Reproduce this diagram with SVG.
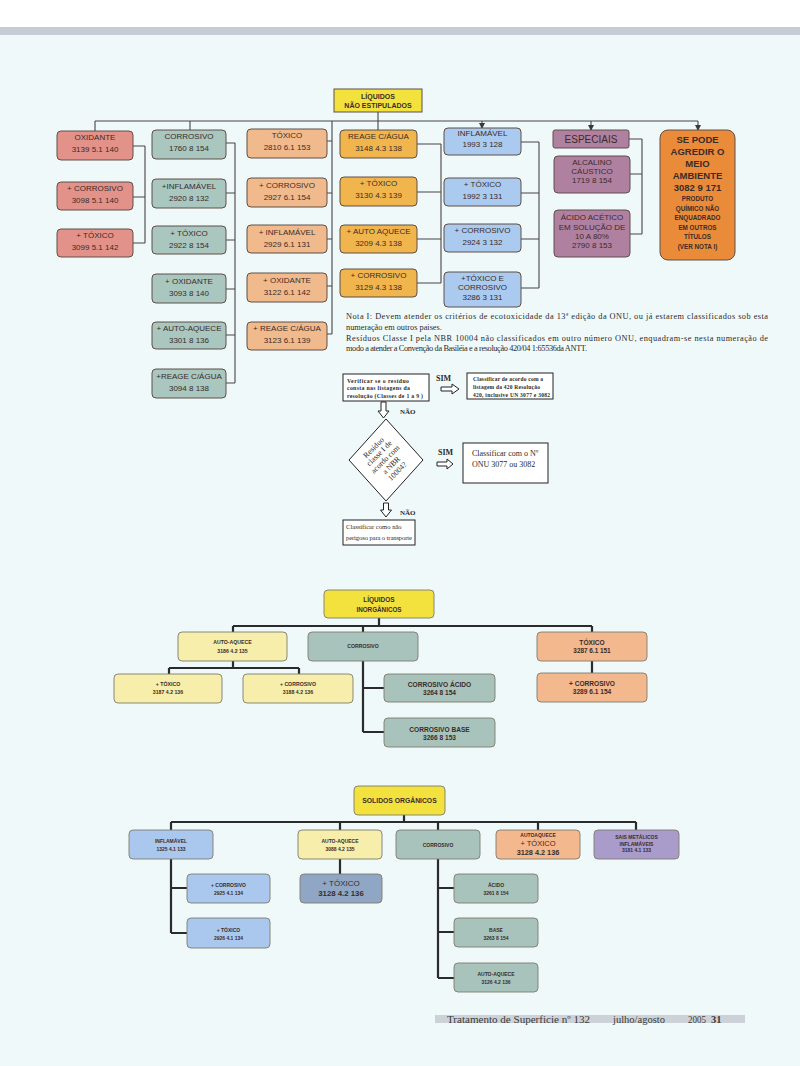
<svg xmlns="http://www.w3.org/2000/svg" width="800" height="1066" viewBox="0 0 800 1066">
<defs>
<marker id="ah" markerWidth="6" markerHeight="6" refX="5" refY="3" orient="auto" markerUnits="userSpaceOnUse">
<path d="M0,0 L6,3 L0,6 Z" fill="#3a3a3a"/>
</marker>
<style>
.t{font-family:"Liberation Sans",Arial,sans-serif;text-anchor:middle;fill:#3a2c28}
.f8{font-size:8px}
.b{font-weight:bold}
.sr{font-family:"Liberation Serif","Times New Roman",serif;fill:#2a2a2a}
.ln{stroke:#4a4444;stroke-width:1.1;fill:none}
.lk{stroke:#2b2b2b;stroke-width:2.2;fill:none}
.bx{stroke:#5e4f48;stroke-width:1}
.bm{stroke:#7f7a70;stroke-width:0.9}
.ox{fill:#e3928a}
.co{fill:#a9c6bf}
.tx{fill:#f1ba8c}
.re{fill:#f1b54e}
.in{fill:#abcaef}
.es{fill:#b080a1}
.se{fill:#ea8b3a}
.ye{fill:#f3e23e}
.py{fill:#f6eeaa}
.mc{fill:#a8c3bb}
.mt{fill:#f3b88e}
.bb{fill:#aac8ee}
.bg{fill:#8fa7c4}
.sa{fill:#a99ccb}
.fb{fill:#ffffff;stroke:#222;stroke-width:1}
.ha{fill:#ffffff;stroke:#222;stroke-width:1}
.ft{font-family:"Liberation Serif","Times New Roman",serif;fill:#3a3a3a;font-size:10.5px}
</style>
</defs>
<rect x="0" y="0" width="800" height="1066" fill="#eff9fa"/>
<rect x="0" y="0" width="800" height="27" fill="#ffffff"/>
<rect x="0" y="27" width="800" height="8" fill="#c6ccd4"/>

<!-- connectors -->
<g id="connectors">
<path class="ln" d="M95,121 H698 M378,112 V130 M95,121 V131 M190,121 V130"/>
<path class="ln" d="M133,146 H145 M133,197 H145 M133,243 H145 M145,146 V243"/>
<path class="ln" d="M235,143 V383 M226,143 H235 M226,193 H235 M226,240 H235 M226,289 H235 M226,335 H235 M226,383 H235"/>
<path class="ln" d="M332,121 V334 M327,141 H332 M327,193 H332 M327,239 H332 M327,286 H332 M327,334 H332"/>
<path class="ln" d="M441,144 V283 M417,144 H441 M417,192 H441 M417,239 H441 M417,283 H441"/>
<path class="ln" d="M539,142 V288 M521,142 H539 M521,193 H539 M521,239 H539 M521,288 H539"/>
<path class="ln" d="M642,139 V234 M629,139 H642 M630,174 H642 M630,234 H642"/>
<line class="ln" x1="482" y1="121" x2="482" y2="128" marker-end="url(#ah)"/>
<line class="ln" x1="591" y1="121" x2="591" y2="130" marker-end="url(#ah)"/>
<line class="ln" x1="698" y1="121" x2="698" y2="130" marker-end="url(#ah)"/>
<!-- middle -->
<path class="lk" d="M379,618 V626 M233,626 H592 M233,626 V632 M363,626 V632 M592,626 V632"/>
<path class="lk" d="M233,661 V668 M169,668 H299 M169,668 V674 M299,668 V674"/>
<path class="lk" d="M363,661 V732 M363,688 H384 M363,732 H384 M592,661 V673"/>
<!-- bottom -->
<path class="lk" d="M404,815 V822 M171,822 H636 M171,822 V830 M340,822 V830 M438,822 V830 M538,822 V830 M636,822 V830"/>
<path class="lk" d="M171,859 V933 M171,888 H187 M171,933 H187 M340,859 V874"/>
<path class="lk" d="M438,859 V978 M438,888 H454 M438,932 H454 M438,978 H454"/>
</g>

<!-- TOP SECTION -->
<g id="root-liquidos-nao-estipulados">
<rect class="bx ye" x="334" y="89" width="88" height="23"/>
<text class="t b" font-size="7" x="378" y="99">LÍQUIDOS</text>
<text class="t b" font-size="7" x="378" y="108">NÃO ESTIPULADOS</text>
</g>

<g id="oxidante">
<rect class="bx ox" x="57" y="131" width="76" height="29" rx="4"/>
<text class="t f8" x="95" y="140" fill="#5a1d18">OXIDANTE</text>
<text class="t f8" x="95" y="152">3139 5.1 140</text>
</g>
<g id="oxidante-corrosivo">
<rect class="bx ox" x="57" y="182" width="76" height="28" rx="4"/>
<text class="t f8" x="95" y="191">+ CORROSIVO</text>
<text class="t f8" x="95" y="203">3098 5.1 140</text>
</g>
<g id="oxidante-toxico">
<rect class="bx ox" x="57" y="229" width="76" height="28" rx="4"/>
<text class="t f8" x="95" y="238">+ TÓXICO</text>
<text class="t f8" x="95" y="250">3099 5.1 142</text>
</g>

<g id="corrosivo">
<rect class="bx co" x="152" y="130" width="74" height="29" rx="4"/>
<text class="t f8" x="189" y="139">CORROSIVO</text>
<text class="t f8" x="189" y="151">1760 8 154</text>
</g>
<g id="corrosivo-inflamavel">
<rect class="bx co" x="152" y="179" width="74" height="29" rx="4"/>
<text class="t f8" x="189" y="189">+INFLAMÁVEL</text>
<text class="t f8" x="189" y="201">2920 8 132</text>
</g>
<g id="corrosivo-toxico">
<rect class="bx co" x="152" y="226" width="74" height="28" rx="4"/>
<text class="t f8" x="189" y="236">+ TÓXICO</text>
<text class="t f8" x="189" y="248">2922 8 154</text>
</g>
<g id="corrosivo-oxidante">
<rect class="bx co" x="152" y="274" width="74" height="29" rx="4"/>
<text class="t f8" x="189" y="284">+ OXIDANTE</text>
<text class="t f8" x="189" y="296">3093 8 140</text>
</g>
<g id="corrosivo-autoaquece">
<rect class="bx co" x="152" y="322" width="74" height="27" rx="4"/>
<text class="t f8" x="189" y="331">+ AUTO-AQUECE</text>
<text class="t f8" x="189" y="343">3301 8 136</text>
</g>
<g id="corrosivo-reage">
<rect class="bx co" x="152" y="369" width="74" height="29" rx="4"/>
<text class="t f8" x="189" y="379">+REAGE C/ÁGUA</text>
<text class="t f8" x="189" y="391">3094 8 138</text>
</g>

<g id="toxico">
<rect class="bx tx" x="247" y="129" width="80" height="29" rx="4"/>
<text class="t f8" x="287" y="138">TÓXICO</text>
<text class="t f8" x="287" y="150">2810 6.1 153</text>
</g>
<g id="toxico-corrosivo">
<rect class="bx tx" x="247" y="178" width="80" height="29" rx="4"/>
<text class="t f8" x="287" y="188">+ CORROSIVO</text>
<text class="t f8" x="287" y="200">2927 6.1 154</text>
</g>
<g id="toxico-inflamavel">
<rect class="bx tx" x="247" y="225" width="80" height="28" rx="4"/>
<text class="t f8" x="287" y="235">+ INFLAMÁVEL</text>
<text class="t f8" x="287" y="247">2929 6.1 131</text>
</g>
<g id="toxico-oxidante">
<rect class="bx tx" x="247" y="273" width="80" height="29" rx="4"/>
<text class="t f8" x="287" y="283">+ OXIDANTE</text>
<text class="t f8" x="287" y="295">3122 6.1 142</text>
</g>
<g id="toxico-reage">
<rect class="bx tx" x="247" y="322" width="80" height="28" rx="4"/>
<text class="t f8" x="287" y="331">+ REAGE C/ÁGUA</text>
<text class="t f8" x="287" y="343">3123 6.1 139</text>
</g>

<g id="reage">
<rect class="bx re" x="340" y="130" width="77" height="28" rx="4"/>
<text class="t f8" x="378.5" y="139">REAGE C/ÁGUA</text>
<text class="t f8" x="378.5" y="151">3148 4.3 138</text>
</g>
<g id="reage-toxico">
<rect class="bx re" x="340" y="177" width="77" height="29" rx="4"/>
<text class="t f8" x="378.5" y="186">+ TÓXICO</text>
<text class="t f8" x="378.5" y="198">3130 4.3 139</text>
</g>
<g id="reage-autoaquece">
<rect class="bx re" x="340" y="225" width="77" height="28" rx="4"/>
<text class="t f8" x="378.5" y="234">+ AUTO AQUECE</text>
<text class="t f8" x="378.5" y="246">3209 4.3 138</text>
</g>
<g id="reage-corrosivo">
<rect class="bx re" x="340" y="269" width="77" height="28" rx="4"/>
<text class="t f8" x="378.5" y="278">+ CORROSIVO</text>
<text class="t f8" x="378.5" y="290">3129 4.3 138</text>
</g>

<g id="inflamavel">
<rect class="bx in" x="444" y="128" width="77" height="27" rx="4"/>
<text class="t f8" x="482.5" y="136">INFLAMÁVEL</text>
<text class="t f8" x="482.5" y="147">1993 3 128</text>
</g>
<g id="inflamavel-toxico">
<rect class="bx in" x="444" y="178" width="77" height="28" rx="4"/>
<text class="t f8" x="482.5" y="187">+ TÓXICO</text>
<text class="t f8" x="482.5" y="199">1992 3 131</text>
</g>
<g id="inflamavel-corrosivo">
<rect class="bx in" x="444" y="224" width="77" height="28" rx="4"/>
<text class="t f8" x="482.5" y="233">+ CORROSIVO</text>
<text class="t f8" x="482.5" y="245">2924 3 132</text>
</g>
<g id="inflamavel-toxico-corrosivo">
<rect class="bx in" x="444" y="272" width="77" height="35" rx="4"/>
<text class="t f8" x="482.5" y="281">+TÓXICO E</text>
<text class="t f8" x="482.5" y="290">CORROSIVO</text>
<text class="t f8" x="482.5" y="300">3286 3 131</text>
</g>

<g id="especiais">
<rect class="bx es" x="553" y="130" width="76" height="18" rx="2"/>
<text class="t" font-size="10" x="591" y="143">ESPECIAIS</text>
</g>
<g id="alcalino-caustico">
<rect class="bx es" x="554" y="156" width="76" height="37" rx="4"/>
<text class="t f8" x="592" y="165">ALCALINO</text>
<text class="t f8" x="592" y="174">CÁUSTICO</text>
<text class="t f8" x="592" y="183">1719 8 154</text>
</g>
<g id="acido-acetico">
<rect class="bx es" x="554" y="210" width="76" height="47" rx="4"/>
<text class="t f8" x="592" y="220">ÁCIDO ACÉTICO</text>
<text class="t f8" x="592" y="230">EM SOLUÇÃO DE</text>
<text class="t f8" x="592" y="239">10 A 80%</text>
<text class="t f8" x="592" y="248">2790 8 153</text>
</g>

<g id="se-pode-agredir">
<rect class="bx se" x="660" y="130" width="75" height="130" rx="8"/>
<g class="t b" font-size="9.5">
<text x="697.5" y="143">SE PODE</text>
<text x="697.5" y="155">AGREDIR O</text>
<text x="697.5" y="167">MEIO</text>
<text x="697.5" y="179">AMBIENTE</text>
<text x="697.5" y="191">3082 9 171</text>
</g>
<g class="t b" font-size="6.3">
<text x="697.5" y="200.5">PRODUTO</text>
<text x="697.5" y="210.5">QUÍMICO NÃO</text>
<text x="697.5" y="220">ENQUADRADO</text>
<text x="697.5" y="229.5">EM OUTROS</text>
<text x="697.5" y="239">TÍTULOS</text>
<text x="697.5" y="248.5">(VER NOTA I)</text>
</g>
</g>

<!-- NOTE -->
<g id="nota" class="sr" font-size="8.3">
<text x="346" y="319" textLength="422" lengthAdjust="spacing">Nota I: Devem atender os critérios de ecotoxicidade da 13ª edição da ONU, ou já estarem classificados sob esta</text>
<text x="346" y="330">numeração em outros paises.</text>
<text x="346" y="341" textLength="422" lengthAdjust="spacing">Resíduos Classe I pela NBR 10004 não classificados em outro número ONU,  enquadram-se nesta numeração de</text>
<text x="346" y="351" textLength="241" lengthAdjust="spacing">modo a atender a Convenção da Basiléia e a resolução 420/04 1:65536da ANTT.</text>
</g>

<!-- FLOWCHART -->
<g id="flow-verificar">
<rect class="fb" x="343" y="374" width="86" height="27"/>
<g class="sr b" font-size="5.8">
<text x="347" y="383" textLength="62" lengthAdjust="spacing">Verificar se  o  resíduo</text>
<text x="347" y="390" textLength="63" lengthAdjust="spacing">consta nas listagens da</text>
<text x="347" y="397.5" textLength="76" lengthAdjust="spacing">resolução (Classes de 1 a 9 )</text>
</g>
</g>
<g id="flow-sim1">
<text class="sr b" font-size="8" x="436" y="381">SIM</text>
<path class="ha" d="M441,387 H452 V384 L459,389 L452,394 V391 H441 Z"/>
</g>
<g id="flow-classificar-listagem">
<rect class="fb" x="467" y="373" width="86" height="26"/>
<g class="sr b" font-size="5.5">
<text x="473" y="381" textLength="70" lengthAdjust="spacing">Classificar de acordo com a</text>
<text x="473" y="389" textLength="67" lengthAdjust="spacing">listagem da 420 Resolução</text>
<text x="473" y="396.5" textLength="77" lengthAdjust="spacing">420, inclusive UN 3077 e 3082</text>
</g>
</g>
<g id="flow-nao1">
<path class="ha" d="M381,402 H386 V411 H389 L383.5,418 L378,411 H381 Z"/>
<text class="sr b" font-size="7" x="400" y="414">NÃO</text>
</g>
<g id="flow-diamond">
<polygon class="fb" points="386,419 423,460 386,501 349,460"/>
<g class="sr" font-size="7.8" text-anchor="middle" transform="rotate(-45 386 460)">
<text x="386" y="445">Resíduo</text>
<text x="386" y="453">classe I de</text>
<text x="386" y="461.5">acordo com</text>
<text x="386" y="470">a NBR</text>
<text x="386" y="478.5">10004?</text>
</g>
</g>
<g id="flow-sim2">
<text class="sr b" font-size="8" x="438" y="455">SIM</text>
<path class="ha" d="M437,462 H447 V459 L453,464 L447,469 V466 H437 Z"/>
</g>
<g id="flow-classificar-onu">
<rect class="fb" x="463" y="443" width="85" height="40"/>
<text class="sr" font-size="8" x="472" y="456">Classificar com o Nº</text>
<text class="sr" font-size="8" x="472" y="467">ONU 3077 ou 3082</text>
</g>
<g id="flow-nao2">
<path class="ha" d="M383.5,503 H388.5 V510 H391.5 L386,517 L380.5,510 H383.5 Z"/>
<text class="sr b" font-size="7" x="400" y="515">NÃO</text>
</g>
<g id="flow-nao-perigoso">
<rect class="fb" x="343" y="520" width="72" height="25"/>
<text class="sr" font-size="6.6" x="346" y="528.5">Classificar como não</text>
<text class="sr" font-size="6.6" x="346" y="540" textLength="66" lengthAdjust="spacing">perigoso para o transporte</text>
</g>

<!-- MIDDLE SECTION -->
<g id="root-liquidos-inorganicos">
<rect class="bm ye" x="324" y="590" width="110" height="28" rx="4"/>
<text class="t b" font-size="6.5" x="379" y="601.5">LÍQUIDOS</text>
<text class="t b" font-size="6.3" x="379" y="611.5">INORGÂNICOS</text>
</g>
<g id="li-autoaquece">
<rect class="bm py" x="178" y="632" width="109" height="29" rx="4"/>
<text class="t b" font-size="5.2" x="232.5" y="644">AUTO-AQUECE</text>
<text class="t b" font-size="5.2" x="232.5" y="653">3186 4.2 135</text>
</g>
<g id="li-corrosivo">
<rect class="bm mc" x="308" y="632" width="110" height="29" rx="4"/>
<text class="t b" font-size="5.2" x="363" y="648">CORROSIVO</text>
</g>
<g id="li-toxico">
<rect class="bm mt" x="537" y="632" width="110" height="29" rx="4"/>
<text class="t b" font-size="6.6" x="592" y="644.5">TÓXICO</text>
<text class="t b" font-size="6.4" x="592" y="652.5">3287 6.1 151</text>
</g>
<g id="li-autoaquece-toxico">
<rect class="bm py" x="114" y="674" width="108" height="29" rx="4"/>
<text class="t b" font-size="5.2" x="168" y="686">+ TÓXICO</text>
<text class="t b" font-size="5.2" x="168" y="694">3187 4.2 136</text>
</g>
<g id="li-autoaquece-corrosivo">
<rect class="bm py" x="243" y="674" width="110" height="29" rx="4"/>
<text class="t b" font-size="5.2" x="298" y="686">+ CORROSIVO</text>
<text class="t b" font-size="5.2" x="298" y="694">3188 4.2 136</text>
</g>
<g id="li-corrosivo-acido">
<rect class="bm mc" x="384" y="674" width="111" height="28" rx="4"/>
<text class="t b" font-size="6.6" x="439.5" y="686.5">CORROSIVO ÁCIDO</text>
<text class="t b" font-size="6.6" x="439.5" y="694.5">3264 8 154</text>
</g>
<g id="li-corrosivo-base">
<rect class="bm mc" x="384" y="718" width="111" height="29" rx="4"/>
<text class="t b" font-size="6.6" x="439.5" y="731.5">CORROSIVO BASE</text>
<text class="t b" font-size="6.6" x="439.5" y="739.5">3266 8 153</text>
</g>
<g id="li-toxico-corrosivo">
<rect class="bm mt" x="537" y="673" width="110" height="29" rx="4"/>
<text class="t b" font-size="6.6" x="592" y="685.5">+ CORROSIVO</text>
<text class="t b" font-size="6.6" x="592" y="693.5">3289 6.1 154</text>
</g>

<!-- BOTTOM SECTION -->
<g id="root-solidos-organicos">
<rect class="bm ye" x="354" y="786" width="91" height="29" rx="4"/>
<text class="t b" font-size="6.8" x="399.5" y="803">SOLIDOS ORGÂNICOS</text>
</g>
<g id="so-inflamavel">
<rect class="bm bb" x="129" y="830" width="84" height="29" rx="4"/>
<text class="t b" font-size="5" x="171" y="843">INFLAMÁVEL</text>
<text class="t b" font-size="5" x="171" y="850.5">1325 4.1 133</text>
</g>
<g id="so-autoaquece">
<rect class="bm py" x="298" y="830" width="84" height="29" rx="4"/>
<text class="t b" font-size="5" x="340" y="843">AUTO-AQUECE</text>
<text class="t b" font-size="5" x="340" y="850.5">3088 4.2 135</text>
</g>
<g id="so-corrosivo">
<rect class="bm mc" x="396" y="830" width="84" height="29" rx="4"/>
<text class="t b" font-size="5" x="438" y="847">CORROSIVO</text>
</g>
<g id="so-autoaquece-toxico">
<rect class="bm mt" x="496" y="830" width="84" height="29" rx="4"/>
<text class="t b" font-size="5" x="538" y="837">AUTOAQUECE</text>
<text class="t" font-size="7.5" x="538" y="846">+ TÓXICO</text>
<text class="t b" font-size="7.3" x="538" y="855">3128 4.2 136</text>
</g>
<g id="so-sais-metalicos">
<rect class="bm sa" x="594" y="830" width="85" height="29" rx="4"/>
<text class="t b" font-size="5" x="636.5" y="839">SAIS METÁLICOS</text>
<text class="t b" font-size="5" x="636.5" y="845.5">INFLAMÁVEIS</text>
<text class="t b" font-size="5" x="636.5" y="852">3181 4.1 133</text>
</g>
<g id="so-inflamavel-corrosivo">
<rect class="bm bb" x="187" y="874" width="83" height="29" rx="4"/>
<text class="t b" font-size="5" x="228.5" y="887">+ CORROSIVO</text>
<text class="t b" font-size="5" x="228.5" y="894.5">2925 4.1 134</text>
</g>
<g id="so-inflamavel-toxico">
<rect class="bm bb" x="187" y="918" width="83" height="30" rx="4"/>
<text class="t b" font-size="5" x="228.5" y="932">+ TÓXICO</text>
<text class="t b" font-size="5" x="228.5" y="939.5">2926 4.1 134</text>
</g>
<g id="so-autoaquece-toxico2">
<rect class="bm bg" x="300" y="874" width="82" height="29" rx="4"/>
<text class="t" font-size="8" x="341" y="886">+ TÓXICO</text>
<text class="t b" font-size="7.8" x="341" y="896">3128 4.2 136</text>
</g>
<g id="so-corrosivo-acido">
<rect class="bm mc" x="454" y="874" width="84" height="29" rx="4"/>
<text class="t b" font-size="5" x="496" y="887">ÁCIDO</text>
<text class="t b" font-size="5" x="496" y="895">3261 8 154</text>
</g>
<g id="so-corrosivo-base">
<rect class="bm mc" x="454" y="918" width="84" height="29" rx="4"/>
<text class="t b" font-size="5" x="496" y="932">BASE</text>
<text class="t b" font-size="5" x="496" y="939.5">3263 8 154</text>
</g>
<g id="so-corrosivo-autoaquece">
<rect class="bm mc" x="454" y="963" width="84" height="29" rx="4"/>
<text class="t b" font-size="5" x="496" y="976">AUTO-AQUECE</text>
<text class="t b" font-size="5" x="496" y="984">3126 4.2 136</text>
</g>

<!-- FOOTER -->
<g id="footer">
<rect x="435" y="1015" width="310" height="8" fill="#cdd2d8"/>
<text class="ft" x="447" y="1023" textLength="143" lengthAdjust="spacingAndGlyphs">Tratamento de Superficie  nº 132</text>
<text class="ft" x="613" y="1023" textLength="52" lengthAdjust="spacingAndGlyphs">julho/agosto</text>
<text class="ft" x="688" y="1023" textLength="18" lengthAdjust="spacingAndGlyphs">2005</text>
<text class="ft b" font-size="13" x="711" y="1023">31</text>
</g>
</svg>
